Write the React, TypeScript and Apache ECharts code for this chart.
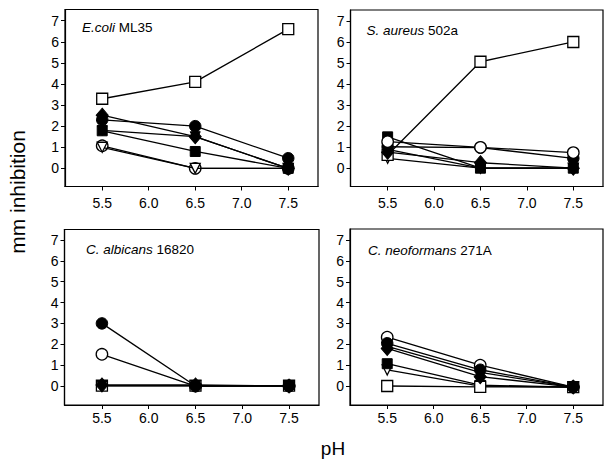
import React, { useEffect, useRef } from "react";
import * as echarts from "echarts";

// x values (pH)
const phValues = [5.5, 6.5, 7.5];
const xTickValues = [5.5, 6.0, 6.5, 7.0, 7.5];
const yTickValues = [0, 1, 2, 3, 4, 5, 6, 7];

// series order: open square, filled circle, open circle, filled square,
// filled diamond, filled inverted triangle, open inverted triangle
const markerKinds = ["openSquare", "filledCircle", "openCircle", "filledSquare", "filledDiamond", "filledTriangle", "openTriangle"];

const ecoliValues = [
  [3.3, 4.1, 6.6],
  [2.3, 2.0, 0.48],
  [1.07, 0, 0],
  [1.78, 0.8, 0],
  [2.52, 1.5, 0],
  [1.8, 1.5, 0],
  [1.0, 0, 0],
];
const aureusValues = [
  [0.63, 5.06, 6.0],
  [1.02, 0.98, 0.47],
  [1.26, 0.99, 0.74],
  [1.49, 0, 0],
  [0.76, 0.26, 0],
  [0.9, 0, 0],
  [0.47, 0, 0],
];
const albicansValues = [
  [0.02, 0.02, 0.02],
  [3.0, 0, 0],
  [1.52, 0, 0],
  [0.02, 0.02, 0.02],
  [0.05, 0.05, 0.0],
  [0.02, 0.02, 0.02],
  [0.02, 0.02, 0.02],
];
const neoformansValues = [
  [0, -0.04, -0.05],
  [2.05, 0.78, -0.05],
  [2.34, 1.0, -0.05],
  [1.07, 0.04, -0.05],
  [1.8, 0.45, -0.05],
  [1.9, 0.65, -0.05],
  [0.77, 0.0, -0.05],
];

const panelValues = [ecoliValues, aureusValues, albicansValues, neoformansValues];
const panelTitleItalic = ["E.coli", "S. aureus", "C. albicans", "C. neoformans"];
const panelTitleStrain = ["ML35", "502a", "16820", "271A"];

const FONT = "'Liberation Sans', Arial, Helvetica, sans-serif";

const grids = [
  { left: 65, top: 9.5, width: 253, height: 177 },
  { left: 350.5, top: 10, width: 252.5, height: 176.5 },
  { left: 64.5, top: 229.5, width: 254.5, height: 175.5 },
  { left: 350, top: 229, width: 253, height: 176 },
];
const yRanges = [
  [-0.86, 7.53],
  [-0.87, 7.52],
  [-0.91, 7.5],
  [-0.91, 7.53],
];
const titlePos = [
  { left: 82, top: 20 },
  { left: 366.5, top: 23 },
  { left: 86, top: 242 },
  { left: 368, top: 243 },
];
const xLabelMargins = [9, 9, 6, 6];

// drawing order: open markers below, filled markers above
const zOrder: Record<string, number> = {
  openCircle: 2,
  openTriangle: 3,
  filledSquare: 4,
  openSquare: 5,
  filledCircle: 6,
  filledDiamond: 7,
  filledTriangle: 8,
};

function markerStyle(kind: string) {
  const black = "#000";
  const white = "#fff";
  switch (kind) {
    case "openSquare":
      return { symbol: "rect", symbolSize: 11, symbolRotate: 0, itemStyle: { color: white, borderColor: black, borderWidth: 1.3 } };
    case "filledCircle":
      return { symbol: "circle", symbolSize: 11.5, symbolRotate: 0, itemStyle: { color: black, borderColor: black, borderWidth: 1 } };
    case "openCircle":
      return { symbol: "circle", symbolSize: 11.5, symbolRotate: 0, itemStyle: { color: white, borderColor: black, borderWidth: 1.3 } };
    case "filledSquare":
      return { symbol: "rect", symbolSize: 10, symbolRotate: 0, itemStyle: { color: black, borderColor: black, borderWidth: 1 } };
    case "filledDiamond":
      return { symbol: "diamond", symbolSize: [12, 14], symbolRotate: 0, itemStyle: { color: black, borderColor: black, borderWidth: 1 } };
    case "filledTriangle":
      return { symbol: "triangle", symbolSize: 10, symbolRotate: 180, itemStyle: { color: black, borderColor: black, borderWidth: 1 } };
    default:
      return { symbol: "triangle", symbolSize: 10, symbolRotate: 180, itemStyle: { color: white, borderColor: black, borderWidth: 1.3 } };
  }
}

export default function App() {
  const ref = useRef<HTMLDivElement>(null);

  useEffect(() => {
    if (!ref.current) return;
    const chart = echarts.init(ref.current, undefined, { renderer: "svg" });

    const series: any[] = [];
    panelValues.forEach((vals, p) => {
      vals.forEach((arr, s) => {
        const kind = markerKinds[s];
        const m = markerStyle(kind);
        // in the S. aureus panel the open circle sits on top of the filled circle
        const z = p === 1 && kind === "openCircle" ? 9 : zOrder[kind];
        series.push({
          type: "line",
          xAxisIndex: p,
          yAxisIndex: p,
          data: phValues.map((x, i) => [x, arr[i]]),
          symbol: m.symbol,
          symbolSize: m.symbolSize,
          symbolRotate: m.symbolRotate,
          showAllSymbol: true,
          itemStyle: m.itemStyle,
          lineStyle: { color: "#000", width: 1.3 },
          z,
          silent: true,
        });
      });
    });

    const option: any = {
      animation: false,
      backgroundColor: "#fff",
      textStyle: { fontFamily: FONT },
      grid: grids.map((g) => ({
        ...g,
        show: true,
        borderColor: "#000",
        borderWidth: 1.2,
        backgroundColor: "transparent",
        containLabel: false,
      })),
      xAxis: grids.map((_, p) => ({
        type: "value",
        gridIndex: p,
        min: 5.1,
        max: 7.82,
        splitLine: { show: false },
        axisLine: { show: true, onZero: false, lineStyle: { color: "#000", width: 1.2 } },
        axisTick: { show: true, inside: false, length: 4, customValues: xTickValues, lineStyle: { color: "#000" } },
        axisLabel: {
          show: true,
          customValues: xTickValues,
          margin: xLabelMargins[p],
          color: "#000",
          fontSize: 14,
          fontFamily: FONT,
          formatter: (v: number) => v.toFixed(1),
        },
      })),
      yAxis: grids.map((_, p) => ({
        type: "value",
        gridIndex: p,
        min: yRanges[p][0],
        max: yRanges[p][1],
        splitLine: { show: false },
        axisLine: { show: true, onZero: false, lineStyle: { color: "#000", width: 1.2 } },
        axisTick: { show: true, inside: false, length: 4, customValues: yTickValues, lineStyle: { color: "#000" } },
        axisLabel: {
          show: true,
          customValues: yTickValues,
          margin: 6,
          color: "#000",
          fontSize: 14,
          fontFamily: FONT,
        },
      })),
      title: grids.map((_, p) => ({
        text: `{i|${panelTitleItalic[p]}} {n|${panelTitleStrain[p]}}`,
        left: titlePos[p].left,
        top: titlePos[p].top,
        padding: 0,
        textStyle: {
          fontSize: 13.5,
          color: "#000",
          fontFamily: FONT,
          fontWeight: "normal",
          rich: {
            i: { fontStyle: "italic", fontSize: 13.5, color: "#000", fontFamily: FONT },
            n: { fontSize: 13.5, color: "#000", fontFamily: FONT },
          },
        },
      })),
      graphic: [
        {
          type: "text",
          x: 17,
          y: 192,
          rotation: Math.PI / 2,
          style: {
            text: "mm inhibition",
            fontSize: 21,
            fontFamily: FONT,
            fill: "#000",
            align: "center",
            verticalAlign: "middle",
          },
        },
        {
          type: "text",
          x: 333,
          y: 448,
          style: {
            text: "pH",
            fontSize: 19,
            fontFamily: FONT,
            fill: "#000",
            align: "center",
            verticalAlign: "middle",
          },
        },
      ],
      series,
    };

    chart.setOption(option);
    return () => {
      chart.dispose();
    };
  }, []);

  return (
    <div
      ref={ref}
      style={{ position: "absolute", left: 0, top: 0, width: 610, height: 467, background: "#fff" }}
    />
  );
}
